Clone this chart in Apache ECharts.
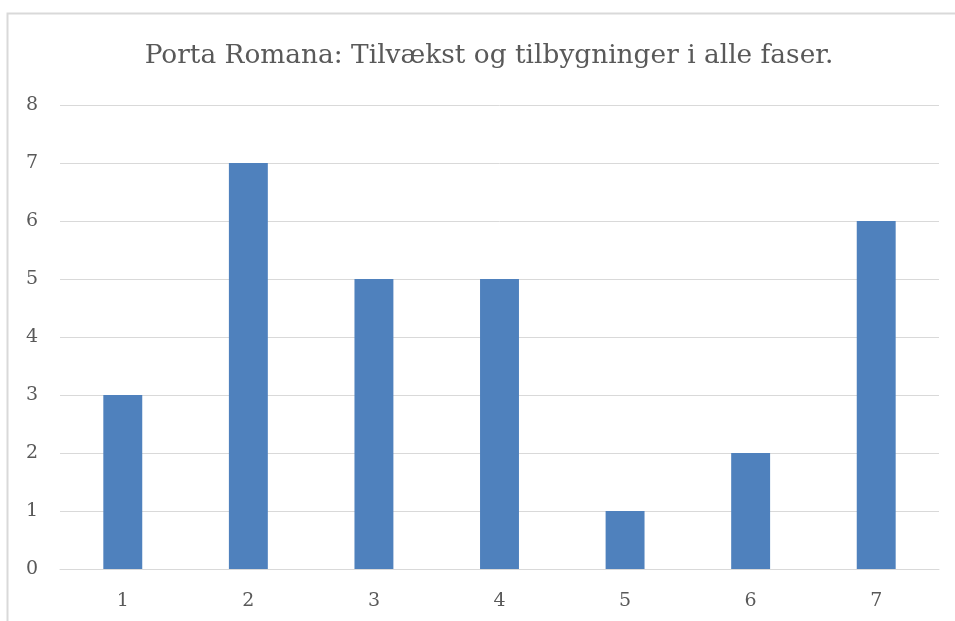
<!DOCTYPE html>
<html>
<head>
<meta charset="utf-8">
<script src="https://cdn.jsdelivr.net/npm/echarts@6/dist/echarts.min.js"></script>
<style>html,body{margin:0;padding:0;background:#fff;}#c{width:955px;height:621px;}</style>
</head>
<body>
<div id="c"></div>
<script>
const titleText = 'Porta Romana: Tilvækst og tilbygninger i alle faser.';
const categories = ['1','2','3','4','5','6','7'];
const values = [3, 7, 5, 5, 1, 2, 6];
const yTicks = [0, 8, 1];

const chart = echarts.init(document.getElementById('c'), null, {renderer: 'canvas'});
const serif = '"DejaVu Serif", "Liberation Serif", serif';
chart.setOption({
  animation: false,
  backgroundColor: '#ffffff',
  title: {
    text: titleText,
    left: 484,
    textAlign: 'center',
    top: 38,
    textStyle: {fontFamily: serif, fontSize: 26.4, fontWeight: 'normal', color: '#595959'}
  },
  graphic: [{
    type: 'polyline',
    shape: {points: [[7.5, 621], [7.5, 13.5], [955, 13.5]]},
    style: {stroke: '#d9d9d9', lineWidth: 2, fill: null},
    silent: true
  }],
  grid: {left: 60, right: 16, top: 105, bottom: 52, containLabel: false},
  xAxis: {
    type: 'category',
    data: categories,
    axisLine: {show: true, lineStyle: {color: '#d9d9d9', width: 1}},
    axisTick: {show: false},
    axisLabel: {fontFamily: serif, fontSize: 19, color: '#595959', margin: 23}
  },
  yAxis: {
    type: 'value',
    min: yTicks[0], max: yTicks[1], interval: yTicks[2],
    axisLine: {show: false},
    axisTick: {show: false},
    splitLine: {lineStyle: {color: '#d9d9d9', width: 1}},
    axisLabel: {fontFamily: serif, fontSize: 19, color: '#595959', margin: 22}
  },
  series: [{
    type: 'bar',
    data: values,
    barWidth: '31%',
    itemStyle: {color: '#4f81bd'}
  }]
});
</script>
</body>
</html>
